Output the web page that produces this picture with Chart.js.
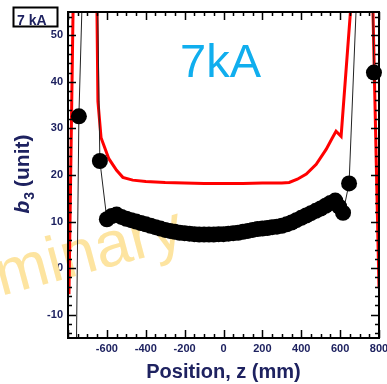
<!DOCTYPE html>
<html>
<head>
<meta charset="utf-8">
<script src="https://cdn.jsdelivr.net/npm/chart.js@4.4.1/dist/chart.umd.min.js"></script>
<style>
    body { margin: 0; background: #fff; }
    canvas { display: block; }
</style>
</head>
<body>
<canvas id="b3Chart" width="387" height="384"></canvas>
<script>
    // axis labels
    const xTicks=[-600,-400,-200,0,200,400,600,800];
    const yTicks=[-10,0,10,20,30,40,50];

    // red curve, position z (mm) vs b3
    const redZ=[-795,-704,-646,-630,-590,-550,-518,-467,-400,-300,-200,-100,0,100,200,300,338,380,426,477,528,559,579,605,743,800];
    const redB3=[-5.6,258,35.8,28.0,23.5,21.0,19.5,18.9,18.6,18.4,18.3,18.2,18.2,18.2,18.3,18.3,18.4,19.1,20.2,22.3,25.5,27.9,29.4,28.3,105,-4.3];

    // measured points
    const dotZ=[-760,-744,-675,-636,-600,
        -575,-550,-525,-500,-475,-450,-425,-400,-375,-350,-325,-300,-275,-250,-225,-200,-175,-150,-125,-100,-75,-50,-25,
        0,25,50,75,100,125,150,175,200,225,250,275,300,325,350,375,400,425,450,475,500,525,550,575,
        595,615,646,740,774];
    const dotB3=[-30,32.6,135,23.0,10.5,
        11.2,11.5,11.0,10.6,10.3,10.0,9.7,9.4,9.1,8.8,8.5,8.2,8.0,7.8,7.6,7.5,7.4,7.3,7.2,7.2,7.2,7.2,7.3,
        7.3,7.4,7.5,7.6,7.8,8.0,8.2,8.4,8.5,8.6,8.8,8.9,9.1,9.4,9.8,10.3,10.8,11.3,11.8,12.3,12.8,13.4,14.0,14.5,
        13.2,11.9,18.2,115,42];

    const FONT='"Liberation Sans", Arial, sans-serif';
    const NAVY='#1e2260';
    Chart.defaults.font.family=FONT;

    const toPoints=(zs,vs)=>zs.map((z,i)=>({x:z,y:vs[i]}));

    const decor={
        id:"decor",
        beforeDatasetsDraw(chart){
            const ctx=chart.ctx;
            // watermark
            ctx.save();
            ctx.translate(1,296);
            ctx.rotate(-15*Math.PI/180);
            ctx.font="64px "+FONT;
            ctx.fillStyle="#fde4a0";
            ctx.textBaseline="alphabetic";
            ctx.fillText("Preliminary",-ctx.measureText("Preli").width,0);
            ctx.restore();
        },
        afterDatasetsDraw(chart){
            const ctx=chart.ctx;
            const {left,right,top,bottom}=chart.chartArea;
            const xs=chart.scales.x, ys=chart.scales.y;
            ctx.save();
            ctx.strokeStyle="#000";
            ctx.lineWidth=1.5;
            ctx.beginPath();
            for(let v=-800;v<=800;v+=50){
                const px=Math.round(xs.getPixelForValue(v))+0.5;
                const len=v%200===0?8:4;
                ctx.moveTo(px,bottom); ctx.lineTo(px,bottom-len);
                ctx.moveTo(px,top); ctx.lineTo(px,top+len);
            }
            for(let v=-14;v<=54;v+=2){
                const py=Math.round(ys.getPixelForValue(v))+0.5;
                const len=v%10===0?8:4;
                ctx.moveTo(left,py); ctx.lineTo(left+len,py);
                ctx.moveTo(right,py); ctx.lineTo(right-len,py);
            }
            ctx.stroke();
            ctx.lineWidth=2;
            ctx.strokeRect(left,top,right-left,bottom-top);
            ctx.restore();
        },
        afterDraw(chart){
            const ctx=chart.ctx;
            ctx.save();
            // corner tag
            ctx.strokeStyle="#000";
            ctx.lineWidth=2;
            ctx.strokeRect(13.5,7.5,44,19);
            ctx.fillStyle=NAVY;
            ctx.font="bold 14px "+FONT;
            ctx.textBaseline="alphabetic";
            ctx.fillText("7 kA",17,25);

            // big current label
            ctx.fillStyle="#10aeee";
            ctx.font="47px "+FONT;
            ctx.fillText("7kA",180,77);

            // y axis title: b3 (unit)
            ctx.translate(29,174);
            ctx.rotate(-Math.PI/2);
            const fB="italic bold 21px "+FONT, fS="bold 14px "+FONT, fR="bold 21px "+FONT;
            ctx.font=fB; const wB=ctx.measureText("b").width;
            ctx.font=fS; const wS=ctx.measureText("3").width;
            ctx.font=fR; const wR=ctx.measureText(" (unit)").width;
            let x=-(wB+wS+wR)/2;
            ctx.fillStyle=NAVY;
            ctx.font=fB; ctx.fillText("b",x,0); x+=wB+1;
            ctx.font=fS; ctx.fillText("3",x,5); x+=wS-1;
            ctx.font=fR; ctx.fillText(" (unit)",x,0);
            ctx.restore();
        }
    };

    const ctxB3=document.getElementById("b3Chart").getContext("2d");
    const b3Chart=new Chart(ctxB3,{
        type: "scatter",
        data: {
            datasets: [{
                label: "b3",
                data: toPoints(dotZ,dotB3),
                showLine: true,
                borderColor: "#222",
                borderWidth: 1,
                backgroundColor: "#000",
                pointRadius: 8,
                pointBorderWidth: 0,
                pointHoverRadius: 8,
                clip: {left: 10, right: 10, top: 0, bottom: 0},
                order: 1,
            },{
                label: "red",
                data: toPoints(redZ,redB3),
                showLine: true,
                borderColor: "#ff0000",
                borderWidth: 3,
                pointRadius: 0,
                clip: 0,
                order: 2,
            }],
        },
        options: {
            responsive: false,
            animation: false,
            devicePixelRatio: 1,
            layout: {
                padding: {top: 12, right: 7, bottom: 0, left: 0},
            },
            plugins: {
                legend: {display: false},
                tooltip: {enabled: false},
            },
            scales: {
                x: {
                    type: "linear",
                    min: -800,
                    max: 800,
                    afterBuildTicks: s=>{ s.ticks=xTicks.map(v=>({value: v})); },
                    afterFit: s=>{ s.height=46; s.paddingLeft=0; s.paddingRight=0; },
                    grid: {display: false, drawTicks: false},
                    border: {display: false},
                    ticks: {
                        autoSkip: false,
                        maxRotation: 0,
                        padding: 4,
                        color: NAVY,
                        font: {size: 11, weight: "bold"},
                    },
                    title: {
                        display: true,
                        text: "Position, z (mm)",
                        color: NAVY,
                        font: {size: 20, weight: "bold"},
                        padding: {top: 0, bottom: 0},
                    },
                },
                y: {
                    min: -15,
                    max: 55,
                    afterBuildTicks: s=>{ s.ticks=yTicks.map(v=>({value: v})); },
                    afterFit: s=>{ s.width=68; s.paddingTop=0; s.paddingBottom=0; },
                    grid: {display: false, drawTicks: false},
                    border: {display: false},
                    ticks: {
                        padding: 5,
                        color: NAVY,
                        font: {size: 11, weight: "bold"},
                    },
                },
            },
        },
        plugins: [decor],
    });
</script>
</body>
</html>
